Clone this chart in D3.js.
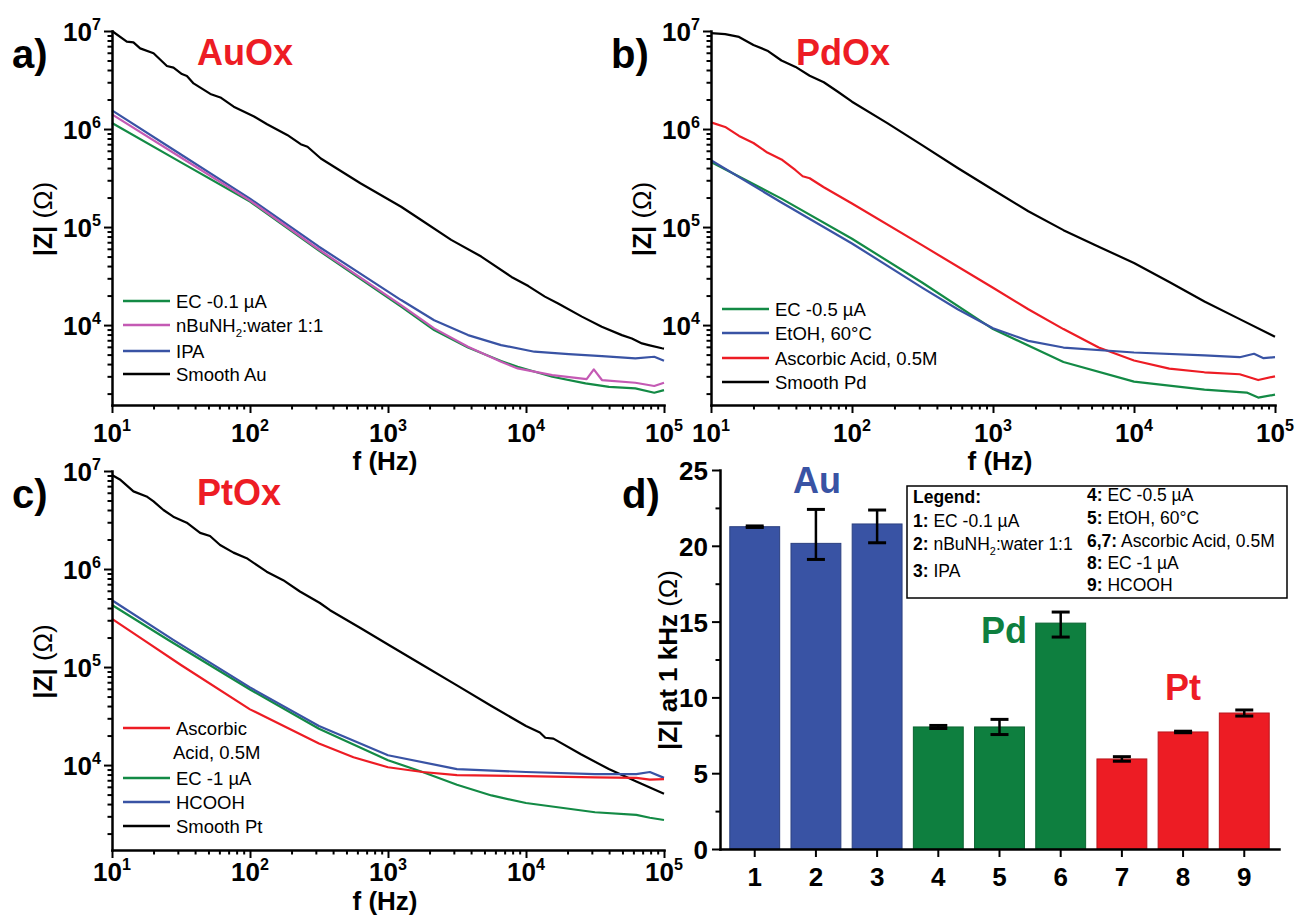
<!DOCTYPE html>
<html>
<head>
<meta charset="utf-8">
<script src="https://cdn.jsdelivr.net/npm/d3@7"></script>
<style>
  body { margin: 0; background: #fff; }
  svg text { font-family: Arial, "Liberation Sans", Helvetica, sans-serif; fill: #000; }
</style>
</head>
<body>
<svg id="figure" width="1295" height="916"></svg>
<script>
'use strict'

// colours
const cBlue = '#3953a4', cGreen = '#138a45', cRed = '#ed1c24', cMagenta = '#c45ab4', cBlack = '#000';
const barColors = { Au: '#3953a4', Pd: '#0e7f3f', Pt: '#ed1c24' };

// ---- a) AuOx : [f (Hz), |Z| (ohm)] ----
const auEC = [[10,1.15e6],[31.6,4.57e5],[100,1.82e5],[316,5.75e4],[1245,1.54e4],[2160,8.9e3],[3800,5.9e3],[6600,4.3e3],[8700,3.76e3],[1.55e4,2.97e3],[2.7e4,2.54e3],[4e4,2.34e3],[6.2e4,2.26e3],[8.5e4,2.04e3],[1e5,2.17e3]];
const auBuNH2 = [[10,1.41e6],[31.6,5.13e5],[100,1.86e5],[316,5.9e4],[1245,1.6e4],[2160,9.25e3],[3800,6.0e3],[6600,4.22e3],[8700,3.61e3],[1.55e4,3.09e3],[2.75e4,2.81e3],[3.1e4,3.53e3],[3.55e4,2.75e3],[6.2e4,2.58e3],[8.5e4,2.39e3],[1e5,2.58e3]];
const auIPA = [[10,1.55e6],[31.6,5.5e5],[100,1.95e5],[316,6.3e4],[1245,1.8e4],[2160,1.12e4],[3800,7.9e3],[6600,6.25e3],[1.15e4,5.35e3],[2.04e4,5.06e3],[3.55e4,4.83e3],[6.2e4,4.57e3],[8.5e4,4.75e3],[1e5,4.33e3]];
const auSmooth = [[10,1.0e7],[12.8,7.78e6],[14.3,7.66e6],[16,6.65e6],[20,5.92e6],[25,4.4e6],[27.9,4.23e6],[32.1,3.64e6],[34.9,3.48e6],[39,2.92e6],[51.6,2.28e6],[61,2.1e6],[76.2,1.69e6],[107,1.34e6],[133,1.12e6],[186,8.7e5],[233,7.0e5],[261,6.6e5],[326,5.0e5],[631,2.8e5],[1245,1.61e5],[1740,1.18e5],[2870,7.4e4],[4740,5.0e4],[7850,3.1e4],[1.04e4,2.5e4],[1.37e4,1.95e4],[1.71e4,1.66e4],[2.54e4,1.22e4],[3.54e4,9.6e3],[4.95e4,7.9e3],[5.85e4,7.3e3],[6.92e4,6.5e3],[7.74e4,6.25e3],[9.66e4,5.8e3],[1e5,5.75e3]];

// ---- b) PdOx ----
const pdEC = [[10,4.6e5],[31.6,1.95e5],[100,7.6e4],[316,2.7e4],[1000,9.1e3],[3160,4.2e3],[1e4,2.65e3],[3.16e4,2.2e3],[6.3e4,2.05e3],[7.6e4,1.82e3],[1e5,1.95e3]];
const pdEtOH = [[10,4.8e5],[31.6,1.78e5],[100,6.8e4],[316,2.4e4],[562,1.45e4],[1000,9.3e3],[1780,6.9e3],[3160,5.9e3],[1e4,5.25e3],[3.16e4,4.9e3],[5.62e4,4.7e3],[7.1e4,5.1e3],[8.3e4,4.6e3],[1e5,4.7e3]];
const pdAsc = [[10,1.17e6],[12.6,1.05e6],[15.8,8.5e5],[20,7.2e5],[25.1,5.75e5],[31.6,4.9e5],[39.8,3.8e5],[44.7,3.3e5],[50.1,3.15e5],[63.1,2.55e5],[100,1.74e5],[316,6.5e4],[1000,2.4e4],[1780,1.45e4],[3160,9.1e3],[5620,5.9e3],[1e4,4.35e3],[1.78e4,3.6e3],[3.16e4,3.3e3],[5.62e4,3.15e3],[7.6e4,2.75e3],[1e5,3.0e3]];
const pdSmooth = [[10,9.5e6],[12.6,9.3e6],[15.8,8.7e6],[20,7.2e6],[25.1,6.3e6],[31.6,5.0e6],[39.8,4.3e6],[50.1,3.5e6],[63.1,3.0e6],[79.4,2.4e6],[100,1.9e6],[178,1.15e6],[316,6.8e5],[562,4.0e5],[1000,2.4e5],[1780,1.45e5],[3160,9.3e4],[5620,6.3e4],[1e4,4.3e4],[1.78e4,2.75e4],[3.16e4,1.74e4],[5.62e4,1.15e4],[1e5,7.6e3]];

// ---- c) PtOx ----
const ptAsc = [[10,3.1e5],[16.9,1.89e5],[31.6,1.05e5],[100,3.7e4],[316,1.66e4],[562,1.2e4],[1000,9.5e3],[1780,8.5e3],[3160,7.9e3],[1e4,7.7e3],[3.16e4,7.5e3],[6.3e4,7.4e3],[7.9e4,7.1e3],[1e5,7.2e3]];
const ptEC = [[10,4.3e5],[25.6,1.89e5],[100,5.9e4],[316,2.35e4],[1000,1.12e4],[1780,8.5e3],[3160,6.3e3],[5620,4.9e3],[1e4,4.1e3],[3.16e4,3.3e3],[6.3e4,3.1e3],[7.9e4,2.9e3],[1e5,2.75e3]];
const ptHCOOH = [[10,4.8e5],[27.8,1.89e5],[100,6.2e4],[316,2.5e4],[1000,1.26e4],[3160,9.1e3],[1e4,8.5e3],[3.16e4,8.1e3],[6.3e4,8.1e3],[7.9e4,8.5e3],[1e5,7.4e3]];
const ptSmooth = [[10,9.1e6],[11.4,8.2e6],[14.3,6.2e6],[17.8,5.5e6],[20,4.9e6],[23.6,4.0e6],[27.8,3.42e6],[34.8,2.97e6],[43.5,2.34e6],[51.3,2.17e6],[60.7,1.76e6],[75.9,1.47e6],[94.6,1.29e6],[132,9.4e5],[174,7.7e5],[230,5.9e5],[321,4.5e5],[380,3.8e5],[631,2.5e5],[1000,1.7e5],[1780,1.05e5],[3160,6.5e4],[5620,4.0e4],[1e4,2.5e4],[1.26e4,2.15e4],[1.38e4,1.9e4],[1.58e4,1.86e4],[2.5e4,1.29e4],[3.98e4,9.1e3],[6.3e4,6.8e3],[1e5,5.1e3]];

// ---- d) |Z| at 1 kHz ----
const barLabels = ['1', '2', '3', '4', '5', '6', '7', '8', '9'];
const barMetal = ['Au', 'Au', 'Au', 'Pd', 'Pd', 'Pd', 'Pt', 'Pt', 'Pt'];
const barValues = [21.26, 20.16, 21.44, 8.05, 8.05, 14.9, 5.94, 7.72, 8.97];
const barErrUp = [0.05, 2.24, 0.92, 0.1, 0.5, 0.73, 0.15, 0.05, 0.2];
const barErrDown = [0.05, 1.06, 1.24, 0.1, 0.5, 0.92, 0.15, 0.05, 0.2];
const barYTicks = [0, 5, 10, 15, 20, 25];

const svg = d3.select('#figure');

// text with bold / sub / sup runs
function richText(g, x, y, parts, size, anchor) {
  const t = g.append('text').attr('x', x).attr('y', y)
    .attr('font-size', size).attr('text-anchor', anchor || 'start');
  let shift = 0;
  parts.forEach(p => {
    const s = t.append('tspan').text(p.t);
    if (p.bold) s.attr('font-weight', 'bold');
    const target = p.sub ? size * 0.3 : p.sup ? -size * 0.42 : 0;
    if (target !== shift) { s.attr('dy', target - shift); shift = target; }
    if (p.sub || p.sup) s.attr('font-size', size * 0.62);
  });
  return t;
}

function logTicks(lo, hi) {
  const out = [];
  for (let e = Math.floor(Math.log10(lo)); e <= Math.round(Math.log10(hi)); e++)
    for (let m = 1; m < 10; m++) {
      const v = m * Math.pow(10, e);
      if (v >= lo && v <= hi * 1.0001) out.push(v);
    }
  return out;
}
const isDecade = v => Math.abs(Math.log10(v) - Math.round(Math.log10(v))) < 1e-6;

function zLabel(g, x, y, boldPart) {
  const t = g.append('text').attr('transform', `translate(${x},${y}) rotate(-90)`)
    .attr('text-anchor', 'middle').attr('font-size', 26);
  t.append('tspan').attr('font-weight', 'bold').text(boldPart);
  t.append('tspan').text(' (\u03a9)');
}

function logPanel(p) {
  const g = svg.append('g');
  const x = d3.scaleLog().domain([10, 1e5]).range([p.left, p.right]);
  const y = d3.scaleLog().domain([p.zMin, 1e7]).range([p.bottom, p.top]);
  const line = d3.line().x(d => x(d[0])).y(d => y(d[1]));

  p.series.forEach(s => {
    g.append('path').datum(s.values)
      .attr('d', line).attr('fill', 'none')
      .attr('stroke', s.color).attr('stroke-width', 2.2)
      .attr('stroke-linejoin', 'round');
  });

  const xAxis = g.append('g').attr('transform', `translate(0,${p.bottom})`)
    .call(d3.axisBottom(x).tickValues(logTicks(10, 1e5)).tickSizeOuter(0).tickFormat(() => ''));
  xAxis.selectAll('.tick line').attr('y2', d => isDecade(d) ? 8 : 4.5).attr('stroke-width', 2);

  const yAxis = g.append('g').attr('transform', `translate(${p.left},0)`)
    .call(d3.axisLeft(y).tickValues(logTicks(p.zMin, 1e7)).tickSizeOuter(0).tickFormat(() => ''));
  yAxis.selectAll('.tick line').attr('x2', d => isDecade(d) ? -8 : -4.5).attr('stroke-width', 2);

  g.selectAll('.domain').attr('stroke-width', 2.5).attr('stroke-linecap', 'square');
  g.selectAll('.tick text').remove();

  logTicks(10, 1e5).filter(isDecade).forEach(v => {
    richText(g, x(v), p.bottom + p.tickDy,
      [{ t: '10', bold: true }, { t: String(Math.round(Math.log10(v))), bold: true, sup: true }], 26, 'middle');
  });
  logTicks(p.zMin, 1e7).filter(isDecade).forEach(v => {
    richText(g, p.left - 11, y(v) + 9.5,
      [{ t: '10', bold: true }, { t: String(Math.round(Math.log10(v))), bold: true, sup: true }], 26, 'end');
  });

  g.append('text').attr('x', p.fX).attr('y', p.bottom + p.fDy)
    .attr('text-anchor', 'middle').attr('font-size', 26).attr('font-weight', 'bold').text('f (Hz)');
  zLabel(g, p.left - 60, (p.top + p.bottom) / 2 + 1, '|Z|');

  // panel letter and title
  g.append('text').attr('x', p.left - 100).attr('y', p.top + 37)
    .attr('font-size', 40).attr('font-weight', 'bold').text(p.letter);
  g.append('text').attr('x', p.left + 85).attr('y', p.top + 34)
    .attr('font-size', 36).attr('font-weight', 'bold').style('fill', cRed).text(p.title);

  // legend
  p.legend.forEach(r => {
    if (r.color) {
      g.append('line').attr('x1', p.left + 11).attr('x2', p.left + 58)
        .attr('y1', r.y).attr('y2', r.y).attr('stroke', r.color).attr('stroke-width', 2.5);
    }
    richText(g, p.left + (r.dx || 64), r.y + 6.5, r.parts, 18.5);
  });
}

logPanel({
  left: 112, right: 664, top: 31, bottom: 405, zMin: 1530, tickDy: 37, fDy: 65, fX: 385,
  letter: 'a)', title: 'AuOx',
  series: [
    { values: auSmooth, color: cBlack },
    { values: auIPA, color: cBlue },
    { values: auEC, color: cGreen },
    { values: auBuNH2, color: cMagenta }
  ],
  legend: [
    { y: 301, color: cGreen, parts: [{ t: 'EC -0.1 \u00b5A' }] },
    { y: 325, color: cMagenta, parts: [{ t: 'nBuNH' }, { t: '2', sub: true }, { t: ':water 1:1' }] },
    { y: 351, color: cBlue, parts: [{ t: 'IPA' }] },
    { y: 374, color: cBlack, parts: [{ t: 'Smooth Au' }] }
  ]
});

logPanel({
  left: 711, right: 1275, top: 31, bottom: 405, zMin: 1530, tickDy: 37, fDy: 65, fX: 1000,
  letter: 'b)', title: 'PdOx',
  series: [
    { values: pdSmooth, color: cBlack },
    { values: pdAsc, color: cRed },
    { values: pdEC, color: cGreen },
    { values: pdEtOH, color: cBlue }
  ],
  legend: [
    { y: 309, color: cGreen, parts: [{ t: 'EC -0.5 \u00b5A' }] },
    { y: 333, color: cBlue, parts: [{ t: 'EtOH, 60\u00b0C' }] },
    { y: 358, color: cRed, parts: [{ t: 'Ascorbic Acid, 0.5M' }] },
    { y: 382, color: cBlack, parts: [{ t: 'Smooth Pd' }] }
  ]
});

logPanel({
  left: 112, right: 664, top: 471, bottom: 850, zMin: 1360, tickDy: 31, fDy: 60, fX: 385,
  letter: 'c)', title: 'PtOx',
  series: [
    { values: ptSmooth, color: cBlack },
    { values: ptEC, color: cGreen },
    { values: ptHCOOH, color: cBlue },
    { values: ptAsc, color: cRed }
  ],
  legend: [
    { y: 728, color: cRed, parts: [{ t: 'Ascorbic' }] },
    { y: 752, dx: 61, parts: [{ t: 'Acid, 0.5M' }] },
    { y: 778, color: cGreen, parts: [{ t: 'EC -1 \u00b5A' }] },
    { y: 802, color: cBlue, parts: [{ t: 'HCOOH' }] },
    { y: 826, color: cBlack, parts: [{ t: 'Smooth Pt' }] }
  ]
});

// ---- panel d: bars ----
(() => {
  const g = svg.append('g');
  const left = 720, right = 1279, bottom = 849, top = 470;
  const xb = d3.scaleBand().domain(barLabels).range([left, right]).paddingInner(0.185).paddingOuter(0.16);
  const yb = d3.scaleLinear().domain([0, 25]).range([bottom, top]);

  barLabels.forEach((l, i) => {
    const fill = barColors[barMetal[i]];
    g.append('rect').attr('x', xb(l)).attr('width', xb.bandwidth())
      .attr('y', yb(barValues[i])).attr('height', bottom - yb(barValues[i]))
      .attr('fill', fill).attr('stroke', d3.color(fill).darker(0.7)).attr('stroke-width', 1);
    const cx = xb(l) + xb.bandwidth() / 2;
    const hi = yb(barValues[i] + barErrUp[i]), lo = yb(barValues[i] - barErrDown[i]);
    g.append('line').attr('x1', cx).attr('x2', cx).attr('y1', hi).attr('y2', lo)
      .attr('stroke', '#000').attr('stroke-width', 2.5);
    [hi, lo].forEach(yy => g.append('line').attr('x1', cx - 9).attr('x2', cx + 9)
      .attr('y1', yy).attr('y2', yy).attr('stroke', '#000').attr('stroke-width', 3));
  });

  const xAxis = g.append('g').attr('transform', `translate(0,${bottom})`)
    .call(d3.axisBottom(xb).tickSizeInner(8).tickSizeOuter(0));
  xAxis.selectAll('.tick line').attr('stroke-width', 2);
  xAxis.selectAll('.tick text').attr('font-size', 26).attr('font-weight', 'bold')
    .attr('dy', null).attr('y', 37);

  const minor = d3.range(0, 25.01, 2.5);
  const yAxis = g.append('g').attr('transform', `translate(${left},0)`)
    .call(d3.axisLeft(yb).tickValues(minor).tickSizeOuter(0)
      .tickFormat(d => barYTicks.includes(d) ? d : ''));
  yAxis.selectAll('.tick line').attr('x2', d => barYTicks.includes(d) ? -8 : -4.5).attr('stroke-width', 2);
  yAxis.selectAll('.tick text').attr('font-size', 26).attr('font-weight', 'bold')
    .attr('x', -12).attr('dy', null).attr('y', 9.5);
  g.selectAll('.domain').attr('stroke-width', 2.5).attr('stroke-linecap', 'square');

  zLabel(g, 677, 660, '|Z| at 1 kHz');
  g.append('text').attr('x', 622).attr('y', 508).attr('font-size', 40).attr('font-weight', 'bold').text('d)');

  const groupLabel = [['Au', 817, 493], ['Pd', 1004, 643], ['Pt', 1183, 700]];
  groupLabel.forEach(([t, x, y]) => g.append('text').attr('x', x).attr('y', y)
    .attr('text-anchor', 'middle').attr('font-size', 36).attr('font-weight', 'bold')
    .style('fill', barColors[t]).text(t));

  // legend box
  g.append('rect').attr('x', 907).attr('y', 486).attr('width', 380).attr('height', 112)
    .attr('fill', '#fff').attr('stroke', '#000').attr('stroke-width', 1.5);
  const leftRows = [
    [503, [{ t: 'Legend:', bold: true }]],
    [527, [{ t: '1:', bold: true }, { t: ' EC -0.1 \u00b5A' }]],
    [550, [{ t: '2:', bold: true }, { t: ' nBuNH' }, { t: '2', sub: true }, { t: ':water 1:1' }]],
    [577, [{ t: '3:', bold: true }, { t: ' IPA' }]]
  ];
  const rightRows = [
    [501, [{ t: '4:', bold: true }, { t: ' EC -0.5 \u00b5A' }]],
    [524, [{ t: '5:', bold: true }, { t: ' EtOH, 60\u00b0C' }]],
    [547, [{ t: '6,7:', bold: true }, { t: ' Ascorbic Acid, 0.5M' }]],
    [569, [{ t: '8:', bold: true }, { t: ' EC -1 \u00b5A' }]],
    [591, [{ t: '9:', bold: true }, { t: ' HCOOH' }]]
  ];
  leftRows.forEach(([y, parts]) => richText(g, 913, y, parts, 17.5));
  rightRows.forEach(([y, parts]) => richText(g, 1087, y, parts, 17.5));
})();
</script>
</body>
</html>
